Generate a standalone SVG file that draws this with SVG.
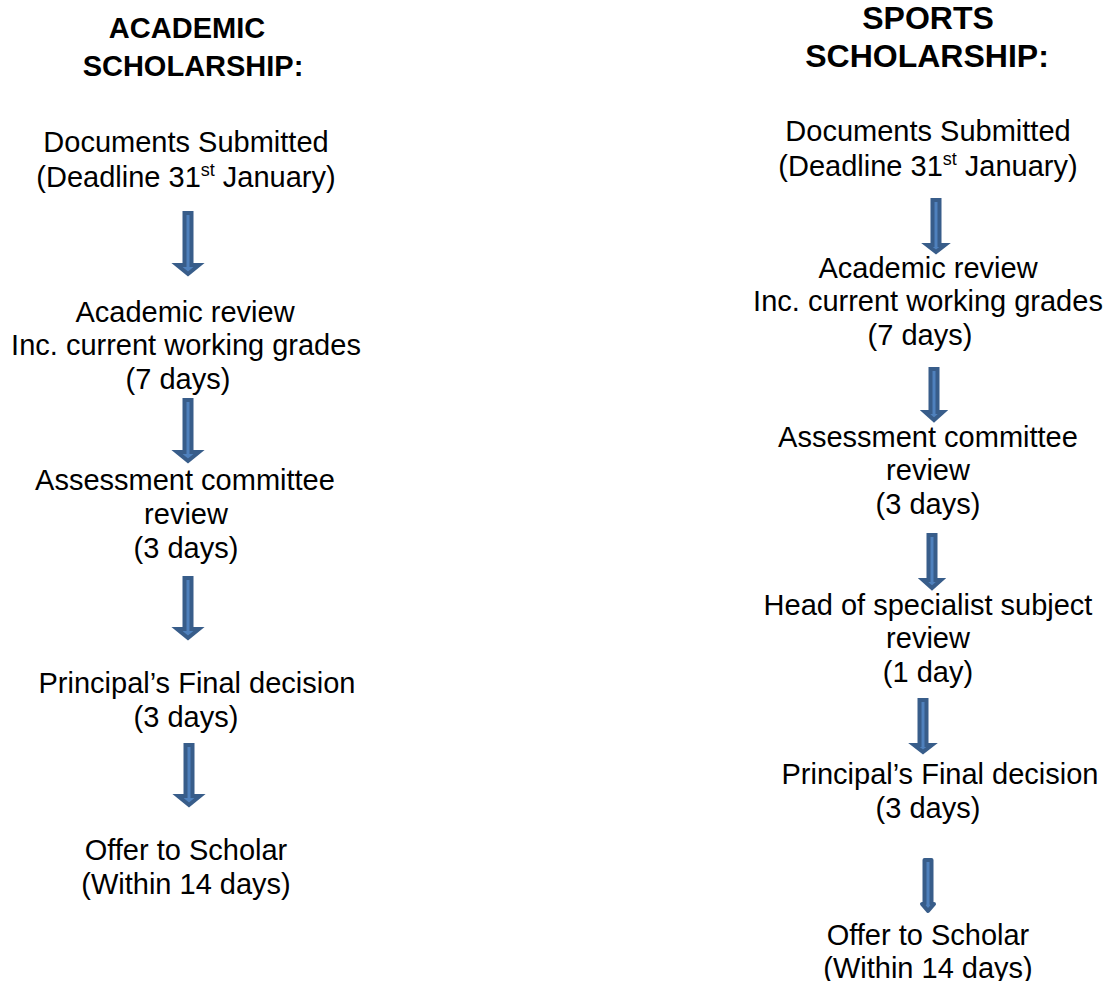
<svg xmlns="http://www.w3.org/2000/svg" width="1108" height="981" viewBox="0 0 1108 981">
<style>
text{font-family:"Liberation Sans",Arial,sans-serif;font-size:29px;fill:#000;text-anchor:middle}
.tl{font-weight:bold;font-size:29px}
.tr{font-weight:bold;font-size:32px}
.sup{font-size:18px}
.arr{fill:#4F81BD;stroke:#385D8A;stroke-width:4;stroke-linejoin:miter}
.arr2{fill:#4F81BD;stroke:#385D8A;stroke-width:4;stroke-linejoin:round}
</style>
<rect width="1108" height="981" fill="#fff"/>
<g id="academic-title">
<text class="tl" x="187" y="38">ACADEMIC</text>
<text class="tl" x="193" y="76">SCHOLARSHIP:</text>
</g>
<g id="a-docs">
<text x="186" y="152">Documents Submitted</text>
<text x="186" y="187">(Deadline 31<tspan class="sup" dy="-11">st</tspan><tspan dy="11"> January)</tspan></text>
</g>
<g id="a-academic">
<text x="185" y="322">Academic review</text>
<text x="186" y="355">Inc. current working grades</text>
<text x="178" y="389">(7 days)</text>
</g>
<g id="a-assess">
<text x="185" y="490">Assessment committee</text>
<text x="186" y="524">review</text>
<text x="186" y="558">(3 days)</text>
</g>
<g id="a-principal">
<text x="197" y="693">Principal’s Final decision</text>
<text x="186" y="727">(3 days)</text>
</g>
<g id="a-offer">
<text x="186" y="860">Offer to Scholar</text>
<text x="186" y="894">(Within 14 days)</text>
</g>
<g id="sports-title">
<text class="tr" x="928" y="29">SPORTS</text>
<text class="tr" x="927" y="67">SCHOLARSHIP:</text>
</g>
<g id="s-docs">
<text x="928" y="141">Documents Submitted</text>
<text x="928" y="176">(Deadline 31<tspan class="sup" dy="-11">st</tspan><tspan dy="11"> January)</tspan></text>
</g>
<g id="s-academic">
<text x="928" y="278">Academic review</text>
<text x="928" y="311">Inc. current working grades</text>
<text x="920" y="345">(7 days)</text>
</g>
<g id="s-assess">
<text x="928" y="447">Assessment committee</text>
<text x="928" y="480">review</text>
<text x="928" y="514">(3 days)</text>
</g>
<g id="s-head">
<text x="928" y="615">Head of specialist subject</text>
<text x="928" y="648">review</text>
<text x="928" y="682">(1 day)</text>
</g>
<g id="s-principal">
<text x="940" y="784">Principal’s Final decision</text>
<text x="928" y="818">(3 days)</text>
</g>
<g id="s-offer">
<text x="928" y="945">Offer to Scholar</text>
<text x="928" y="978">(Within 14 days)</text>
</g>
<g id="connectors">
<path class="arr" d="M184.5,213 H191.5 V265 H199 L188,274 L177,265 H184.5 Z"/>
<path class="arr" d="M184.5,400 H191.5 V452 H199 L188,461 L177,452 H184.5 Z"/>
<path class="arr" d="M184.5,578 H191.5 V629 H199 L188,638 L177,629 H184.5 Z"/>
<path class="arr" d="M185.5,745 H192.5 V796 H200 L189,805 L178,796 H185.5 Z"/>
<path class="arr" d="M932.5,200 H939.5 V245 H945 L936,252 L927,245 H932.5 Z"/>
<path class="arr" d="M930.5,369 H937.5 V412 H943 L934,420 L925,412 H930.5 Z"/>
<path class="arr" d="M928.5,535 H935.5 V580 H941 L932,588 L923,580 H928.5 Z"/>
<path class="arr" d="M919.5,700 H926.5 V745 H932 L923,752 L914,745 H919.5 Z"/>
<path class="arr2" d="M924.5,860 H931.5 V904 H934 L928,911 L922,904 H924.5 Z"/>
</g>
</svg>
